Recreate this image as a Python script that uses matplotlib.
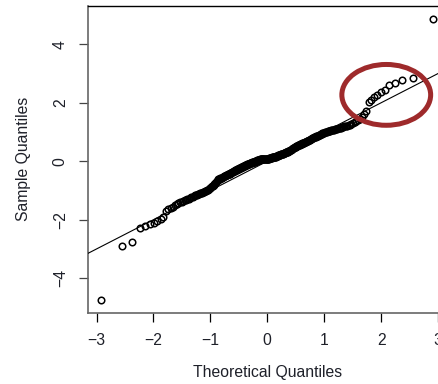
import matplotlib
matplotlib.use("Agg")
import matplotlib.pyplot as plt
from matplotlib.patches import Ellipse
from statistics import NormalDist

plt.rcParams['font.family'] = ['Liberation Sans', 'DejaVu Sans']

# sorted sample values (n = 280)
sample_low = [-4.75, -2.89, -2.77, -2.27, -2.20, -2.16, -2.12, -2.05, -1.98, -1.90,
              -1.70, -1.63, -1.60, -1.56, -1.50, -1.47, -1.44, -1.41, -1.38, -1.36,
              -1.34, -1.32, -1.30, -1.28, -1.26, -1.24, -1.22, -1.19, -1.16,
              -1.15, -1.14, -1.12, -1.11, -1.10, -1.08, -1.07, -1.06, -1.05, -1.03,
              -1.01, -0.99, -0.97, -0.95, -0.92, -0.90, -0.88, -0.86, -0.84, -0.82,
              -0.79, -0.75, -0.72, -0.69, -0.65, -0.62]
sample_mid_low = [-0.61, -0.60, -0.58, -0.57, -0.56, -0.54, -0.53, -0.52, -0.50, -0.49,
                  -0.48, -0.47, -0.46, -0.45, -0.44,
                  -0.43, -0.42, -0.41, -0.40, -0.38, -0.37, -0.36, -0.35, -0.34, -0.32,
                  -0.31, -0.30, -0.29, -0.28, -0.27, -0.26,
                  -0.25, -0.24, -0.23, -0.22, -0.21, -0.20, -0.19, -0.18, -0.17, -0.16,
                  -0.15, -0.14, -0.13, -0.12, -0.12, -0.11, -0.10, -0.09,
                  -0.08, -0.08, -0.07, -0.06, -0.05, -0.05, -0.04, -0.03, -0.03, -0.02,
                  -0.01, -0.01, 0.00, 0.01, 0.01, 0.02, 0.03, 0.03, 0.04, 0.05]
sample_mid_high = [0.05, 0.05, 0.06, 0.06, 0.06, 0.06, 0.07, 0.07, 0.07, 0.07,
                   0.08, 0.08, 0.08, 0.08, 0.08, 0.09, 0.09, 0.09, 0.09,
                   0.10, 0.10, 0.11, 0.11, 0.12, 0.12, 0.13, 0.13, 0.14, 0.14,
                   0.15, 0.15, 0.16, 0.16, 0.17, 0.18, 0.18, 0.19, 0.20,
                   0.21, 0.21, 0.22, 0.23, 0.24, 0.24, 0.25, 0.26, 0.26, 0.27,
                   0.28, 0.29, 0.29, 0.30, 0.31, 0.32, 0.32, 0.33, 0.34,
                   0.35, 0.36, 0.37, 0.39, 0.40, 0.41, 0.42, 0.44, 0.45, 0.46,
                   0.47, 0.49, 0.50, 0.51, 0.52]
sample_high = [0.53, 0.54, 0.55, 0.56, 0.57, 0.58, 0.59, 0.60, 0.61, 0.62,
               0.63, 0.64, 0.65, 0.66, 0.67, 0.68, 0.69, 0.70, 0.72,
               0.73, 0.74, 0.76, 0.77, 0.78, 0.79, 0.81, 0.82, 0.83, 0.84,
               0.86, 0.87, 0.88, 0.89,
               0.90, 0.91, 0.93, 0.94, 0.95, 0.96, 0.97, 0.99, 1.00, 1.01, 1.02, 1.03,
               1.04, 1.05, 1.06, 1.06, 1.07, 1.08, 1.09, 1.10, 1.11, 1.12,
               1.13, 1.15, 1.16, 1.17, 1.19, 1.20, 1.22, 1.23,
               1.25, 1.28, 1.31, 1.34, 1.36, 1.41, 1.45,
               1.51, 1.61, 1.71, 2.03, 2.11, 2.20, 2.28, 2.37, 2.43, 2.62,
               2.69, 2.79, 2.83, 4.85]
sample = sample_low + sample_mid_low + sample_mid_high + sample_high

xticks = [-3, -2, -1, 0, 1, 2, 3]
yticks = [-4, -2, 0, 2, 4]

# theoretical normal quantiles, like R's qqnorm (ppoints)
n = len(sample)
nd = NormalDist()
theo = [nd.inv_cdf((i + 0.5) / n) for i in range(n)]

txt = '#1e2029'
fig = plt.figure(figsize=(4.38, 3.84), dpi=100)
ax = fig.add_axes([0.2009, 0.1857, 0.8187, 0.7987])

ax.plot(theo, sample, 'o', ms=4.7, mfc='none', mec='black', mew=1.1, zorder=2)
ax.axline((0, 0), slope=1, color='black', lw=0.8, zorder=3)

# red ring around the upper tail
ax.add_patch(Ellipse((2.09, 2.27), 1.56, 2.08, fill=False, ec='#9e2a2b', lw=3.6,
                     zorder=4, clip_on=False))

ax.set_xlim(-3.15, 3.15)
ax.set_ylim(-5.18, 5.31)
ax.set_xticks(xticks)
ax.set_yticks(yticks)
ax.tick_params(axis='both', direction='out', length=6.5, width=0.9, labelsize=11.3,
               labelcolor=txt, pad=8)
ax.tick_params(axis='y', labelrotation=90, color='#444444')
for lbl in ax.get_yticklabels():
    lbl.set_va('center')

for s in ['left', 'bottom']:
    ax.spines[s].set_color('#666666')
    ax.spines[s].set_linewidth(1.2)
for s in ['top', 'right']:
    ax.spines[s].set_color('black')
    ax.spines[s].set_linewidth(1.0)

ax.set_xlabel('Theoretical Quantiles', fontsize=11.3, color=txt)
ax.set_ylabel('Sample Quantiles', fontsize=11.3, color=txt)
ax.xaxis.set_label_coords(0.5, -0.17)
ax.yaxis.set_label_coords(-0.16, 0.5)

fig.savefig('out.png', dpi=100)
